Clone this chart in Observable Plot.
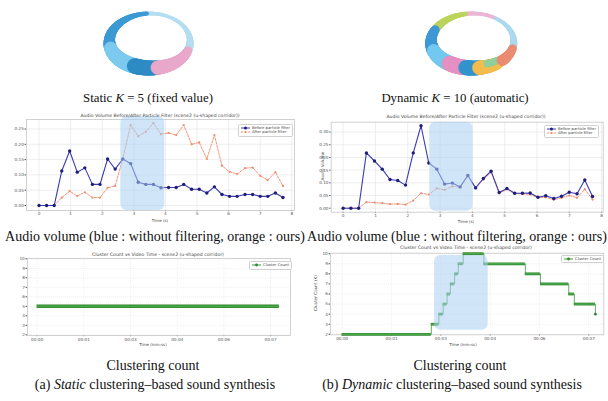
<!DOCTYPE html>
<html><head><meta charset="utf-8">
<script src="https://cdn.jsdelivr.net/npm/d3@7"></script>
<script src="https://cdn.jsdelivr.net/npm/@observablehq/plot@0.6"></script>
<style>
body{margin:0;background:#fff;}
#root{position:relative;width:608px;height:401px;overflow:hidden;background:#fff;}
.p{position:absolute;line-height:0;}
.cap{position:absolute;font-family:"Liberation Serif","Times New Roman",serif;font-size:14px;color:#111;white-space:nowrap;transform:translate(-50%,-50%);line-height:1;}
.sm{position:absolute;font-family:"DejaVu Sans",sans-serif;color:#444;white-space:nowrap;transform:translate(-50%,-50%);line-height:1;}
.leg{position:absolute;background:rgba(255,255,255,0.9);border:0.6px solid #d0d0d0;border-radius:1.5px;font-family:"DejaVu Sans",sans-serif;font-size:3.8px;color:#444;padding:1px 2px;line-height:1;}
.leg div{display:flex;align-items:center;height:4.6px;white-space:nowrap;}
.leg svg{margin-right:2px;}
</style></head><body><div id="root"></div>
<script>
// ---------- data ----------
const time = [0.00,0.24,0.48,0.72,0.97,1.21,1.45,1.69,1.93,2.17,2.41,2.65,2.90,3.14,3.38,3.62,3.86,4.10,4.34,4.58,4.83,5.07,5.31,5.55,5.79,6.03,6.27,6.52,6.76,7.00,7.24,7.48,7.72];
const staticBefore = [0,0,0,0.113,0.178,0.109,0.123,0.069,0.069,0.152,0.119,0.152,0.137,0.076,0.069,0.069,0.058,0.059,0.059,0.069,0.053,0.053,0.041,0.061,0.036,0.030,0.030,0.036,0.036,0.030,0.030,0.041,0.026];
const staticAfter = [0,0,0,0.026,0.047,0.031,0.043,0.026,0.026,0.058,0.064,0.152,0.263,0.226,0.241,0.269,0.233,0.237,0.230,0.263,0.200,0.206,0.152,0.230,0.130,0.110,0.103,0.122,0.124,0.097,0.083,0.109,0.064];
const dynamicBefore = [0,0,0,0.218,0.186,0.154,0.113,0.109,0.091,0.218,0.325,0.178,0.154,0.095,0.099,0.084,0.129,0.080,0.117,0.146,0.062,0.078,0.059,0.059,0.060,0.043,0.049,0.038,0.047,0.063,0.057,0.111,0.046];
const dynamicAfter = [0,0,0,0.024,0.022,0.020,0.016,0.017,0.014,0.030,0.059,0.054,0.078,0.072,0.086,0.083,0.129,0.080,0.113,0.141,0.059,0.074,0.057,0.057,0.054,0.041,0.043,0.033,0.041,0.050,0.041,0.075,0.034];
const audioXTicks = [0,1,2,3,4,5,6,7,8];
const staticYTicks = [0,0.05,0.10,0.15,0.20,0.25];
const dynamicYTicks = [0,0.05,0.10,0.15,0.20,0.25,0.30];
const staticAudioHL = {t1:2.59, t2:3.98, v1:-0.016, v2:0.291};
const dynamicAudioHL = {t1:2.68, t2:4.02, v1:-0.012, v2:0.339};

const clusterTickTimes = [0,1.5,3,4.5,6,7.5];
const clusterTickLabels = ["00:00","00:01","00:03","00:04","00:06","00:07"];
const clusterYTicks = [2,3,4,5,6,7,8,9,10];
const staticKStart = [0], staticKEnd = [7.78], staticKValue = [5];
const dynKStart = [0,2.71,2.94,3.07,3.19,3.29,3.42,3.53,3.68,4.31,5.57,6.03,6.89,7.06];
const dynKEnd   = [2.71,2.94,3.07,3.19,3.29,3.42,3.53,3.68,4.31,5.57,6.03,6.89,7.06,7.70];
const dynKValue = [2,3,4,5,6,7,8,9,10,9,8,7,6,5];
const dynLastTime = 7.70, dynLastK = 4;
const dynClusterHL = {t1:2.81, t2:4.44, k1:2.4, k2:9.83};

// ring clusters (angle ranges in degrees, counter-clockwise from the right)
const staticRingFrom  = [-15, 92, 190, 248, 284];
const staticRingTo    = [92, 190, 248, 284, 345];
const staticRingColor = ["#b4def1","#3d9ad4","#7dcaf0","#2f8cc4","#e9a9cb"];
const dynRingFrom  = [-12, 60, 97, 150, 197, 235, 262, 282, 296, 320];
const dynRingTo    = [60, 97, 150, 197, 235, 262, 285, 312, 322, 350];
const dynRingColor = ["#acd9ee","#ebb5d5","#bdd45c","#3f99d5","#73c9ef","#e490c2","#3393cc","#f3bc4e","#8fcf9a","#ea8c72"];
const dynRingInner = [1,1,1,1,1,1,1,1,0.55,1];

// ---------- helpers ----------
const root = document.getElementById("root");
function place(el, left, top){const d=document.createElement("div");d.className="p";d.style.left=left+"px";d.style.top=top+"px";d.appendChild(el);root.appendChild(d);return d;}
function label(cls, html, x, y, extra){const d=document.createElement("div");d.className=cls;d.innerHTML=html;d.style.left=x+"px";d.style.top=y+"px";if(extra)Object.assign(d.style,extra);root.appendChild(d);return d;}
const baseStyle = {fontFamily:"DejaVu Sans", fontSize:"4.2px", color:"#555", background:"none", overflow:"visible"};

// ---------- rings ----------
function ring(from, to, colors, inner, cx, rx, ry, w, h){
  const marks = [];
  from.forEach((f,ci)=>{
    const segs=[];
    for(let a=f; a<to[ci]; a+=1.5){
      const segFor=(ang)=>{
        const r=ang*Math.PI/180;
        const th = 9.5 - 5.5*Math.sin(r) - 2.5*Math.cos(r);
        const frac = inner ? inner[ci] : 1;
        const off = th*(1-frac) + th*frac/2;
        return {x:(rx-off)*Math.cos(r), y:(ry-off)*Math.sin(r), th: th*frac};
      };
      const p=segFor(a), q=segFor(Math.min(a+1.5,to[ci]));
      segs.push({x1:p.x,y1:p.y,x2:q.x,y2:q.y,w:p.th});
    }
    marks.push(Plot.link(segs,{x1:"x1",y1:"y1",x2:"x2",y2:"y2",stroke:colors[ci],strokeWidth:"w",strokeLinecap:"round",strokeOpacity:0.9}));
  });
  return Plot.plot({width:w,height:h,margin:0,style:baseStyle,
    x:{domain:[-cx, w-cx],axis:null}, y:{domain:[-(h-43),43],axis:null}, marks});
}
place(ring(staticRingFrom, staticRingTo, staticRingColor, null, 148, 45, 32, 304, 92), 0, 0);
place(ring(dynRingFrom, dynRingTo, dynRingColor, dynRingInner, 166.7, 46, 32, 304, 92), 304, 0);

// ---------- audio charts ----------
function audioPlot(c){
  const rows = time.map((t,i)=>({t, before:c.before[i], after:c.after[i]}));
  return Plot.plot({width:c.w,height:c.h,marginLeft:c.ml,marginRight:c.mr,marginTop:c.mt,marginBottom:c.mb,style:baseStyle,
    x:{domain:c.xd,ticks:audioXTicks,tickSize:1.2,tickPadding:0.8,label:null},
    y:{domain:c.yd,ticks:c.yt,tickFormat:d3.format(".2f"),tickSize:1.5,tickPadding:1.2,label:null},
    marks:[
      Plot.ruleX(audioXTicks,{stroke:"#e2e2e2",strokeWidth:0.6}),
      Plot.ruleY(c.yt,{stroke:"#e2e2e2",strokeWidth:0.6}),
      Plot.frame({stroke:"#c6c6c6",strokeWidth:0.8}),
      Plot.line(rows,{x:"t",y:"after",stroke:"#ef8a6a",strokeWidth:0.9,strokeDasharray:"2.4,1.4"}),
      Plot.dot(rows,{x:"t",y:"after",r:1.1,fill:"#ef8a6a"}),
      Plot.line(rows,{x:"t",y:"before",stroke:"#3b3bb0",strokeWidth:1.1}),
      Plot.dot(rows,{x:"t",y:"before",r:1.7,fill:"#1e1e7a"}),
      Plot.rect([c.hl],{x1:"t1",x2:"t2",y1:"v1",y2:"v2",fill:"#a9cff3",fillOpacity:0.55,rx:6})
    ]});
}
place(audioPlot({before:staticBefore,after:staticAfter,w:304,h:122,ml:26,mr:10,mt:11,mb:20,
  xd:[-0.396,8.085],yd:[-0.0163,0.281],yt:staticYTicks,hl:staticAudioHL}),0,108);
place(audioPlot({before:dynamicBefore,after:dynamicAfter,w:304,h:122,ml:26.7,mr:5.3,mt:13.7,mb:18.3,
  xd:[-0.37,8.05],yd:[-0.0158,0.339],yt:dynamicYTicks,hl:dynamicAudioHL}),304,108);

const audioTitle = "Audio Volume Before/After Particle Filter (scene2 (u-shaped corridor))";
label("sm", audioTitle, 160, 115.5, {fontSize:"4.6px"});
label("sm", audioTitle, 466, 116.5, {fontSize:"4.6px"});
label("sm", "Time (s)", 160, 220.8, {fontSize:"4px"});
label("sm", "Time (s)", 466, 221.5, {fontSize:"4px"});
label("sm", "Audio Volume", 322.5, 166, {fontSize:"4.2px", transform:"translate(-50%,-50%) rotate(-90deg)"});

function audioLegend(x,y){
  const d=document.createElement("div");d.className="leg";d.style.left=x+"px";d.style.top=y+"px";
  d.innerHTML=`<div><svg width="9" height="4"><line x1="0" y1="2" x2="9" y2="2" stroke="#3b3bb0" stroke-width="1"/><circle cx="4.5" cy="2" r="1.5" fill="#1e1e7a"/></svg>Before particle filter</div>
  <div><svg width="9" height="4"><line x1="0" y1="2" x2="9" y2="2" stroke="#ef8a6a" stroke-width="0.9" stroke-dasharray="2.2,1.2"/><circle cx="4.5" cy="2" r="1" fill="#ef8a6a"/></svg>After particle filter</div>`;
  root.appendChild(d);
}
audioLegend(238,123.5);
audioLegend(544,124.5);

// ---------- cluster charts ----------
function clusterPlot(c){
  const segs = c.start.map((s,i)=>({s, e:c.end[i], k:c.k[i]}));
  const marks = [
    Plot.ruleX(clusterTickTimes,{stroke:"#e0e0e0",strokeWidth:0.5,strokeDasharray:"1,1"}),
    Plot.ruleY(clusterYTicks,{stroke:"#e0e0e0",strokeWidth:0.5,strokeDasharray:"1,1"}),
    Plot.frame({stroke:"#c6c6c6",strokeWidth:0.8})
  ];
  if(c.last){
    const pts = segs.map(d=>({t:d.s,k:d.k})).concat([{t:c.last.t,k:c.last.k}]);
    marks.push(Plot.line(pts,{x:"t",y:"k",curve:"step-after",stroke:"#3a9a3a",strokeWidth:0.8}));
    marks.push(Plot.dot([c.last],{x:"t",y:"k",r:1.4,fill:"#2e862e"}));
  }
  marks.push(Plot.ruleY(segs,{y:"k",x1:"s",x2:"e",stroke:"#2e862e",strokeWidth:c.sw}));
  marks.push(Plot.ruleY(segs,{y:"k",x1:"s",x2:"e",stroke:"#4aa84a",strokeWidth:c.sw*0.5}));
  if(c.hl) marks.push(Plot.rect([c.hl],{x1:"t1",x2:"t2",y1:"k1",y2:"k2",fill:"#a9cff3",fillOpacity:0.55,rx:6}));
  return Plot.plot({width:c.w,height:c.h,marginLeft:c.ml,marginRight:c.mr,marginTop:c.mt,marginBottom:c.mb,style:baseStyle,
    x:{domain:c.xd,ticks:clusterTickTimes,tickFormat:d=>clusterTickLabels[clusterTickTimes.indexOf(d)],tickSize:1.2,tickPadding:1,label:null},
    y:{domain:c.yd,ticks:clusterYTicks,tickSize:1.5,tickPadding:1.2,label:null},
    marks});
}
place(clusterPlot({start:staticKStart,end:staticKEnd,k:staticKValue,sw:3.6,w:304,h:100,ml:27,mr:14,mt:8,mb:15,
  xd:[-0.31,8.14],yd:[1.93,10.03]}),0,250);
place(clusterPlot({start:dynKStart,end:dynKEnd,k:dynKValue,sw:2.8,last:{t:dynLastTime,k:dynLastK},hl:dynClusterHL,
  w:304,h:105,ml:26,mr:4.7,mt:7.7,mb:15.7,xd:[-0.356,7.956],yd:[1.95,10.05]}),304,245);

const clusterTitle = "Cluster Count vs Video Time - scene2 (u-shaped corridor)";
label("sm", clusterTitle, 158, 255, {fontSize:"4.6px"});
label("sm", clusterTitle, 466, 247.8, {fontSize:"4.6px"});
label("sm", "Time (mm:ss)", 153, 344.8, {fontSize:"4px"});
label("sm", "Time (mm:ss)", 463, 344.8, {fontSize:"4px"});
label("sm", "Cluster Count (K)", 316, 293, {fontSize:"4.2px", transform:"translate(-50%,-50%) rotate(-90deg)"});
function clusterLegend(x,y){
  const d=document.createElement("div");d.className="leg";d.style.left=x+"px";d.style.top=y+"px";
  d.innerHTML=`<div><svg width="9" height="4"><line x1="0" y1="2" x2="9" y2="2" stroke="#3a9a3a" stroke-width="1"/><circle cx="4.5" cy="2" r="1.4" fill="#2e862e"/></svg>Cluster Count</div>`;
  root.appendChild(d);
}
clusterLegend(249,261);
clusterLegend(561,254.5);

// ---------- captions ----------
label("cap", "Static <i>K</i> = 5 (fixed value)", 148, 98, {fontSize:"12.8px"});
label("cap", "Dynamic <i>K</i> = 10 (automatic)", 455, 98, {fontSize:"12.8px"});
label("cap", "Audio volume (blue : without filtering, orange : ours)", 155, 236.5, {background:"#fff", padding:"0 1px"});
label("cap", "Audio volume (blue : without filtering, orange : ours)", 457, 236.5, {background:"#fff", padding:"0 1px"});
label("cap", "Clustering count", 153, 366);
label("cap", "Clustering count", 460, 366);
label("cap", "(a) <i>Static</i> clustering–based sound synthesis", 155, 384.5);
label("cap", "(b) <i>Dynamic</i> clustering–based sound synthesis", 452, 384.5);
</script></body></html>
